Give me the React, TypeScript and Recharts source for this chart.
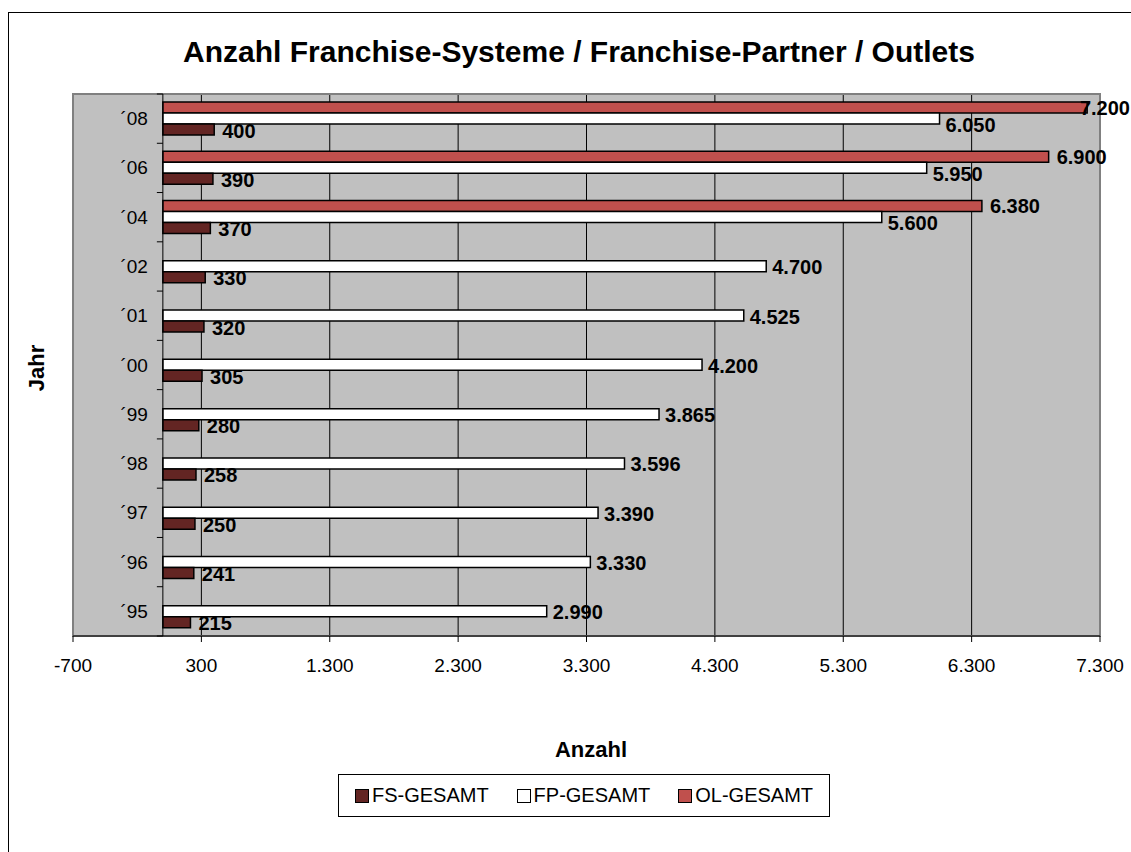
import { BarChart, Bar, XAxis, YAxis, CartesianGrid, ReferenceLine, ReferenceArea, Legend, LabelList } from 'recharts';

const years = ['´08', '´06', '´04', '´02', '´01', '´00', '´99', '´98', '´97', '´96', '´95'];
const fsValues = [400, 390, 370, 330, 320, 305, 280, 258, 250, 241, 215];
const fpValues = [6050, 5950, 5600, 4700, 4525, 4200, 3865, 3596, 3390, 3330, 2990];
const olValues: (number | null)[] = [7200, 6900, 6380, null, null, null, null, null, null, null, null];
const xTicks = [-700, 300, 1300, 2300, 3300, 4300, 5300, 6300, 7300];
const legendOrder = ['FS-GESAMT', 'FP-GESAMT', 'OL-GESAMT'];

const data = years.map((year, i) => ({ year, fs: fsValues[i], fp: fpValues[i], ol: olValues[i] }));

const FONT = '"Liberation Sans", Arial, sans-serif';
const X_MIN = -700;
const X_MAX = 7300;

// plot box inside the svg
const PLOT_LEFT = 73;
const PLOT_TOP = 94;
const PLOT_W = 1027;
const PLOT_H = 542;
const BAND = PLOT_H / years.length;
const ZERO_X = PLOT_LEFT + ((0 - X_MIN) / (X_MAX - X_MIN)) * PLOT_W;
const RIGHT_EDGE = 1130;

const fmt = (v: number) => String(v).replace(/\B(?=(\d{3})+(?!\d))/g, '.');

const YearTick = (props: any) => {
  const { y, payload, index } = props;
  const last = index === years.length - 1;
  return (
    <g>
      <line x1={ZERO_X - 6} x2={ZERO_X} y1={y - BAND / 2} y2={y - BAND / 2} stroke="#000" />
      {last && <line x1={ZERO_X - 6} x2={ZERO_X} y1={y + BAND / 2} y2={y + BAND / 2} stroke="#000" />}
      <text x={ZERO_X - 15} y={y} textAnchor="end" dominantBaseline="central" fontSize={19} fontFamily={FONT} fill="#000">
        {payload.value}
      </text>
    </g>
  );
};

const makeLabel = (dx: number, shiftWhenOl: number) => (props: any) => {
  const { x, y, width, height, value, index } = props;
  if (value == null) return null;
  const dy = olValues[index] != null ? shiftWhenOl : 1;
  const text = fmt(value);
  const start = x + width + dx;
  // label too wide for the space left: pull it back against the edge, as Excel does
  const overflow = start + text.length * 10.5 > RIGHT_EDGE;
  return (
    <text
      x={overflow ? RIGHT_EDGE : start}
      y={y + height / 2 + dy}
      textAnchor={overflow ? 'end' : 'start'}
      dominantBaseline="central"
      fontSize={20}
      fontWeight="bold"
      fontFamily={FONT}
      fill="#000"
    >
      {text}
    </text>
  );
};

const LegendBox = (props: any) => {
  const items = [...(props.payload || [])].sort((a: any, b: any) => legendOrder.indexOf(a.value) - legendOrder.indexOf(b.value));
  return (
    <div style={{ border: '1px solid #000', background: '#fff', height: 41, display: 'flex', alignItems: 'center', justifyContent: 'center', gap: 28, fontFamily: FONT, fontSize: 20 }}>
      {items.map((it: any) => (
        <div key={it.value} style={{ display: 'flex', alignItems: 'center' }}>
          <span style={{ display: 'inline-block', width: 12, height: 12, border: '1px solid #000', background: it.color, marginRight: 3 }} />
          <span>{it.value}</span>
        </div>
      ))}
    </div>
  );
};

export default function App() {
  return (
    <div style={{ position: 'absolute', left: 0, top: 0, width: 1131, height: 852, overflow: 'hidden', background: '#fff' }}>
      <div style={{ position: 'absolute', left: 8, top: 12, width: 1200, height: 900, borderLeft: '1px solid #000', borderTop: '1px solid #000' }} />
      <div style={{ position: 'absolute', left: 0, width: 1158, top: 35, textAlign: 'center', fontFamily: FONT, fontWeight: 'bold', fontSize: 30 }}>
        Anzahl Franchise-Systeme / Franchise-Partner / Outlets
      </div>
      <div style={{ position: 'absolute', left: 37, top: 368, transform: 'translate(-50%, -50%) rotate(-90deg)', fontFamily: FONT, fontWeight: 'bold', fontSize: 22 }}>
        Jahr
      </div>
      <div style={{ position: 'absolute', left: 0, width: 1182, top: 737, textAlign: 'center', fontFamily: FONT, fontWeight: 'bold', fontSize: 22 }}>
        Anzahl
      </div>
      <div style={{ position: 'absolute', left: 0, top: 0 }}>
        <BarChart
          width={1131}
          height={852}
          data={data}
          layout="vertical"
          margin={{ top: PLOT_TOP, right: 1131 - PLOT_LEFT - PLOT_W, bottom: 852 - PLOT_TOP - PLOT_H - 40, left: PLOT_LEFT - 10 }}
          barSize={11}
          barGap={0}
        >
          <CartesianGrid horizontal={false} stroke="#000" fill="#C0C0C0" fillOpacity={1} />
          <XAxis
            type="number"
            domain={[X_MIN, X_MAX]}
            ticks={xTicks}
            allowDataOverflow
            height={40}
            tickFormatter={fmt}
            tickSize={6}
            tickMargin={17}
            axisLine={{ stroke: '#000' }}
            tickLine={{ stroke: '#000' }}
            tick={{ fill: '#000', fontSize: 19, fontFamily: FONT }}
          />
          <YAxis type="category" dataKey="year" width={10} axisLine={false} tickLine={false} tick={<YearTick />} interval={0} />
          <ReferenceArea x1={X_MIN} x2={X_MAX} fill="none" stroke="#808080" strokeWidth={2} />
          <ReferenceLine x={0} stroke="#000" />
          <Legend
            verticalAlign="middle"
            align="center"
            layout="horizontal"
            content={<LegendBox />}
            wrapperStyle={{ left: 338, top: 774, width: 492, height: 43 }}
          />
          <Bar dataKey="ol" name="OL-GESAMT" fill="#C0504D" stroke="#000" strokeWidth={1.5} isAnimationActive={false}>
            <LabelList dataKey="ol" content={makeLabel(8, 0)} />
          </Bar>
          <Bar dataKey="fp" name="FP-GESAMT" fill="#FFFFFF" stroke="#000" strokeWidth={1.5} isAnimationActive={false}>
            <LabelList dataKey="fp" content={makeLabel(6, 6)} />
          </Bar>
          <Bar dataKey="fs" name="FS-GESAMT" fill="#632523" stroke="#000" strokeWidth={1.5} isAnimationActive={false}>
            <LabelList dataKey="fs" content={makeLabel(8, 1)} />
          </Bar>
        </BarChart>
      </div>
    </div>
  );
}
